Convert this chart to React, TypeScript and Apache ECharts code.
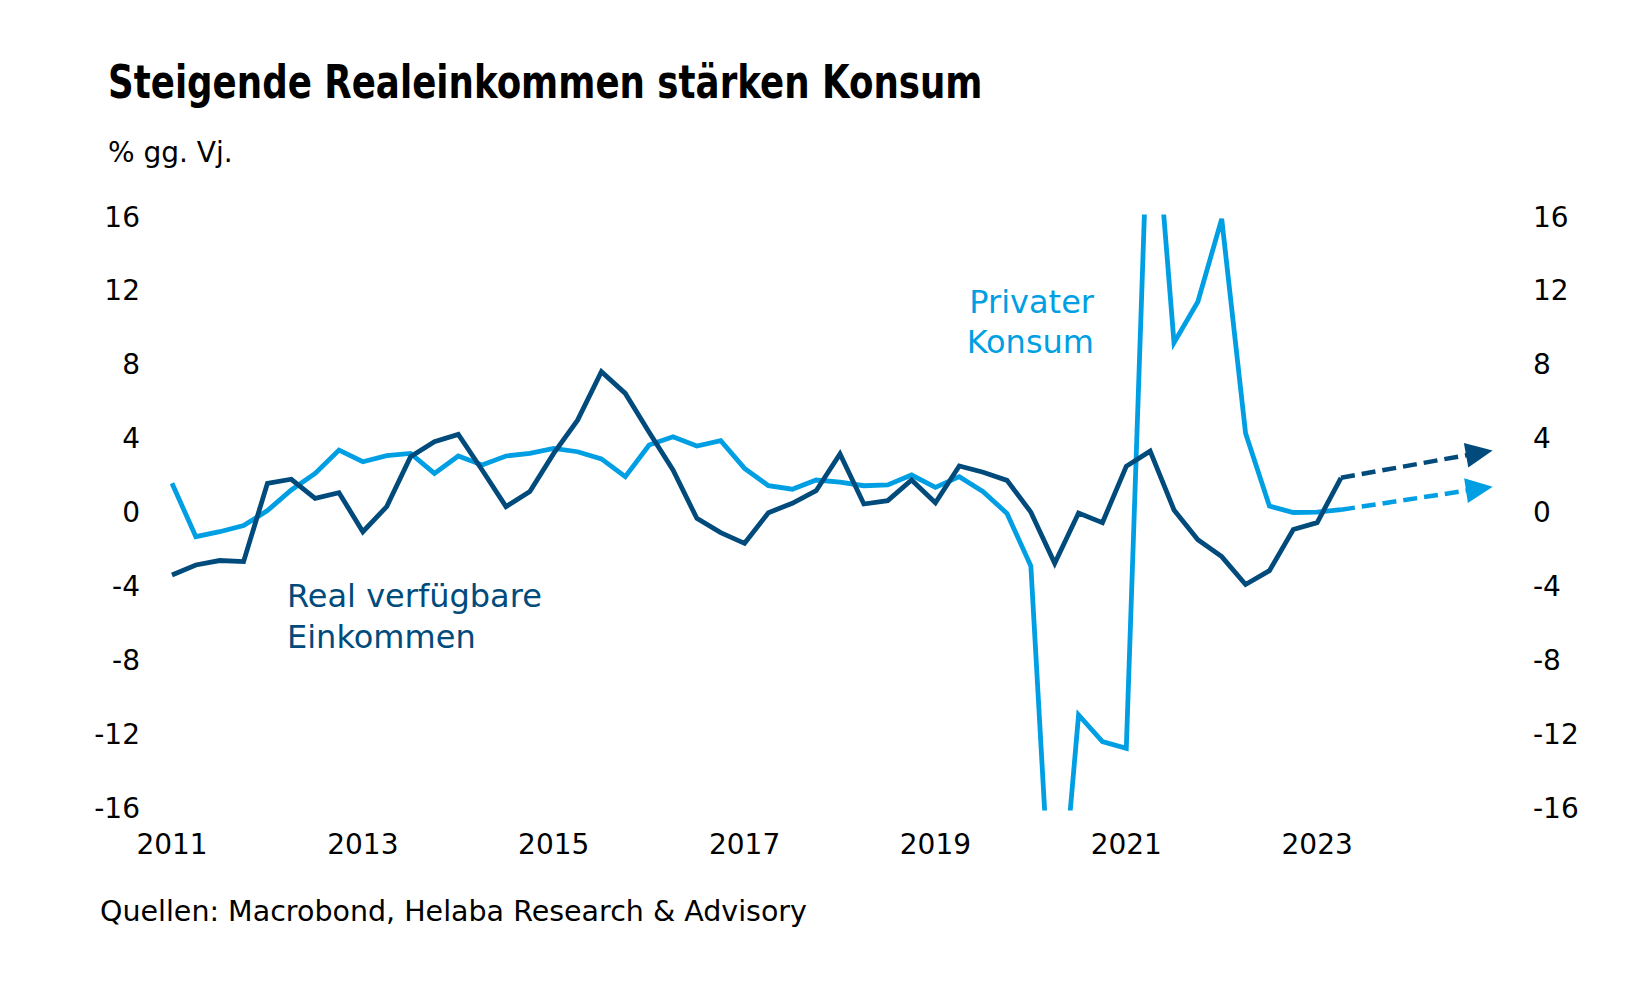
import React, { useEffect, useRef } from "react";
import * as echarts from "echarts";

// Quarterly data, 2011 Q1 … 2023 Q2 (% gg. Vj.)
const startYear = 2011;
const realIncome = [
  -3.38, -2.84, -2.6, -2.66, 1.58, 1.8, 0.77, 1.07, -1.04, 0.32,
  3.02, 3.83, 4.23, 2.3, 0.32, 1.13, 3.2, 5.0, 7.62, 6.45,
  4.35, 2.3, -0.32, -1.09, -1.67, -0.01, 0.5, 1.18, 3.17, 0.46,
  0.64, 1.76, 0.53, 2.52, 2.18, 1.74, 0.02, -2.75, -0.03, -0.55,
  2.5, 3.32, 0.14, -1.47, -2.39, -3.9, -3.15, -0.92, -0.55, 1.88,
];
const consumption = [
  1.58, -1.31, -1.04, -0.71, 0.1, 1.22, 2.12, 3.38, 2.75, 3.08,
  3.2, 2.12, 3.06, 2.57, 3.06, 3.2, 3.47, 3.29, 2.9, 1.94,
  3.65, 4.1, 3.6, 3.89, 2.39, 1.45, 1.26, 1.76, 1.65, 1.45,
  1.49, 2.03, 1.36, 1.94, 1.13, -0.05, -2.9, -25.8, -10.96, -12.4,
  -12.77, 25.3, 9.2, 11.41, 15.9, 4.29, 0.35, 0.0, 0.02, 0.15,
];
const forecastYears = [2023.25, 2024.7];
const forecastIncome = [1.88, 3.23];
const forecastConsumption = [0.15, 1.29];

const xMin = 2011;
const xMax = 2025;
const xInterval = 2;
const yMin = -16;
const yMax = 16;
const yInterval = 4;

const titleText = "Steigende Realeinkommen stärken Konsum";
const unitText = "% gg. Vj.";
const sourceText = "Quellen: Macrobond, Helaba Research & Advisory";
const incomeLabel = ["Real verfügbare", "Einkommen"];
const consumptionLabel = ["Privater", "Konsum"];

const DARK = "#004B7C";
const LIGHT = "#009FE3";
const FONT = '"DejaVu Sans", "Noto Sans", sans-serif';

export default function App() {
  const ref = useRef<HTMLDivElement>(null);

  useEffect(() => {
    document.body.style.margin = "0";
    if (!ref.current) return;
    const chart = echarts.init(ref.current, undefined, { renderer: "svg" });

    const toPairs = (arr: number[]) =>
      arr.map((v, i) => [startYear + i * 0.25, v]);

    const yAxisBase = {
      type: "value" as const,
      min: yMin,
      max: yMax,
      interval: yInterval,
      axisLine: { show: false },
      axisTick: { show: false },
      splitLine: { show: false },
    };

    const arrowLine = (vals: number[], color: string) => ({
      silent: true,
      symbol: ["none", "triangle"],
      symbolSize: [25, 27],
      label: { show: false },
      lineStyle: { color, width: 4.5, type: [14, 7] as any },
      emphasis: { disabled: true },
      data: [
        [
          { coord: [forecastYears[0], vals[0]] },
          { coord: [forecastYears[1], vals[1]] },
        ],
      ],
    });

    const textEl = (
      text: string,
      x: number,
      y: number,
      font: string,
      fill: string,
      align: string = "left",
      scaleX = 1
    ) => ({
      type: "text",
      x,
      y,
      scaleX,
      silent: true,
      style: { text, font, fill, align, verticalAlign: "middle" },
    });

    chart.setOption({
      animation: false,
      grid: { left: 172, right: 142, top: 217, bottom: 192, containLabel: false },
      xAxis: {
        type: "value",
        min: xMin,
        max: xMax,
        interval: xInterval,
        axisLine: { show: false },
        axisTick: { show: false },
        splitLine: { show: false },
        axisLabel: {
          margin: 22,
          fontSize: 28,
          fontFamily: FONT,
          color: "#000",
          formatter: (v: number) => (v === xMax ? "" : String(v)),
        },
      },
      yAxis: [
        {
          ...yAxisBase,
          position: "left",
          axisLabel: { margin: 32, fontSize: 28, fontFamily: FONT, color: "#000" },
        },
        {
          ...yAxisBase,
          position: "right",
          axisLabel: { margin: 25, fontSize: 28, fontFamily: FONT, color: "#000" },
        },
      ],
      series: [
        {
          name: "Real verfügbare Einkommen",
          type: "line",
          data: toPairs(realIncome),
          showSymbol: false,
          symbol: "none",
          lineStyle: { color: DARK, width: 4.8, join: "miter" },
          itemStyle: { color: DARK },
          z: 3,
          markLine: arrowLine(forecastIncome, DARK),
        },
        {
          name: "Privater Konsum",
          type: "line",
          data: toPairs(consumption),
          showSymbol: false,
          symbol: "none",
          lineStyle: { color: LIGHT, width: 4.8, join: "miter" },
          itemStyle: { color: LIGHT },
          z: 2,
          markLine: arrowLine(forecastConsumption, LIGHT),
        },
      ],
      graphic: [
        textEl(titleText, 108, 82, `bold 46px ${FONT}`, "#000", "left", 0.775),
        textEl(unitText, 108, 152, `28px ${FONT}`, "#000"),
        textEl(sourceText, 100, 911, `28.5px ${FONT}`, "#000"),
        textEl(incomeLabel[0], 287, 596, `32px ${FONT}`, DARK),
        textEl(incomeLabel[1], 287, 637, `32px ${FONT}`, DARK),
        textEl(consumptionLabel[0], 1094, 302, `32px ${FONT}`, LIGHT, "right"),
        textEl(consumptionLabel[1], 1094, 342, `32px ${FONT}`, LIGHT, "right"),
      ],
    });

    return () => chart.dispose();
  }, []);

  return <div ref={ref} style={{ width: 1650, height: 1000 }} />;
}
